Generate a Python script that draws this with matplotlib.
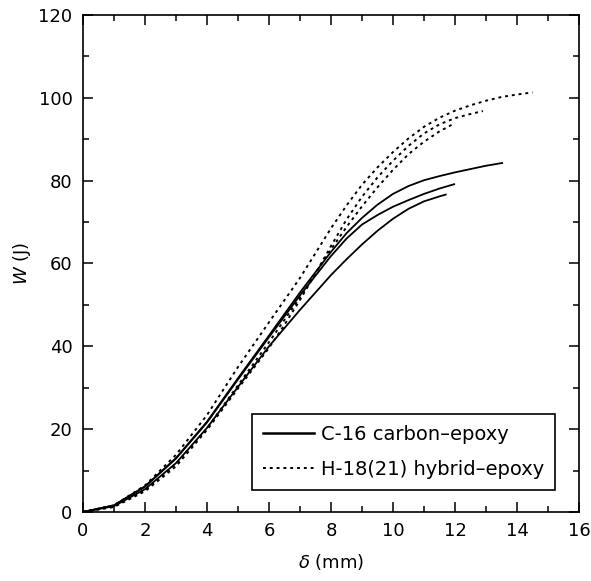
import matplotlib
matplotlib.use("Agg")
import matplotlib.pyplot as plt
from matplotlib.lines import Line2D
import numpy as np

# --- data ---
c1_x = [0, 1, 2, 3, 4, 5, 6, 7, 8, 8.5, 9, 9.5, 10, 10.5, 11, 11.5, 12, 12.5, 13, 13.55]
c1_y = [0, 1.6, 6.2, 13.0, 21.8, 32.3, 42.6, 53.0, 62.8, 67.3, 71.0, 74.2, 76.8, 78.7, 80.1, 81.1, 82.0, 82.8, 83.6, 84.3]

c2_x = [0, 1, 2, 3, 4, 5, 6, 7, 8, 8.5, 9, 9.5, 10, 10.5, 11, 11.5, 12]
c2_y = [0, 1.6, 6.1, 12.9, 21.6, 32.0, 42.2, 52.3, 61.8, 66.0, 69.4, 71.7, 73.7, 75.3, 76.8, 78.1, 79.2]

c3_x = [0, 1, 2, 3, 4, 5, 6, 7, 8, 8.5, 9, 9.5, 10, 10.5, 11, 11.5, 11.73]
c3_y = [0, 1.4, 5.5, 11.8, 20.3, 30.2, 40.0, 48.8, 57.2, 61.0, 64.6, 67.9, 70.8, 73.2, 75.0, 76.2, 76.7]

h1_x = [0, 1, 2, 3, 4, 5, 6, 7, 7.5, 8, 8.5, 9, 9.5, 10, 10.5, 11, 11.5, 12, 12.5, 13, 13.5, 14, 14.5]
h1_y = [0, 1.6, 6.4, 13.8, 23.4, 35.0, 45.8, 56.5, 62.5, 68.5, 74.0, 79.0, 83.2, 86.9, 90.2, 93.0, 95.2, 96.9, 98.2, 99.3, 100.2, 100.8, 101.3]

h2_x = [0, 1, 2, 3, 4, 5, 6, 6.5, 7, 7.5, 8, 8.5, 9, 9.5, 10, 10.5, 11, 11.5, 12, 12.5, 12.9]
h2_y = [0, 1.2, 5.0, 11.0, 19.8, 29.8, 39.6, 45.2, 51.2, 57.6, 64.2, 70.6, 76.1, 80.8, 84.8, 88.4, 91.4, 93.6, 95.1, 96.1, 96.8]

h3_x = [0, 1, 2, 3, 4, 5, 6, 7, 7.5, 8, 8.5, 9, 9.5, 10, 10.5, 11, 11.5, 12]
h3_y = [0, 1.3, 5.3, 11.5, 20.2, 30.6, 41.0, 51.8, 57.6, 63.4, 68.8, 73.8, 78.4, 82.6, 86.4, 89.4, 91.9, 93.9]

carbon_label = "C-16 carbon\u2013epoxy"
hybrid_label = "H-18(21) hybrid\u2013epoxy"
x_ticks = [0, 2, 4, 6, 8, 10, 12, 14, 16]
y_ticks = [0, 20, 40, 60, 80, 100, 120]

plt.rcParams['font.family'] = ['DejaVu Sans']

fig = plt.figure(figsize=(5.91, 5.81), dpi=100)
ax = fig.add_axes([0.1404, 0.1188, 0.8393, 0.8554])

dot_style = (0, (1.5, 2.0))
solid_kw = dict(color='black', lw=1.3, solid_capstyle='butt')
dot_kw = dict(color='black', lw=1.4, linestyle=dot_style)

ax.plot(c1_x, c1_y, **solid_kw)
ax.plot(c2_x, c2_y, **solid_kw)
ax.plot(c3_x, c3_y, **solid_kw)
ax.plot(h1_x, h1_y, **dot_kw)
ax.plot(h2_x, h2_y, **dot_kw)
ax.plot(h3_x, h3_y, **dot_kw)

handles = [Line2D([], [], color='black', lw=1.8),
           Line2D([], [], color='black', lw=1.4, linestyle=dot_style)]
leg = ax.legend(handles, [carbon_label, hybrid_label], loc='lower left',
                bbox_to_anchor=(0.341, 0.0443), borderaxespad=0,
                fontsize=14, fancybox=False, framealpha=1, edgecolor='black',
                handlelength=2.6, handletextpad=0.36, labelspacing=0.85,
                borderpad=0.56)
leg.get_frame().set_linewidth(1.2)

ax.set_xlim(0, 16)
ax.set_ylim(0, 120)
ax.set_xticks(x_ticks)
ax.set_yticks(y_ticks)
ax.set_xticks(np.arange(1, 16, 2), minor=True)
ax.set_yticks(np.arange(10, 120, 20), minor=True)
ax.tick_params(which='both', direction='in', top=True, right=True, width=1.1, labelsize=13)
ax.tick_params(which='major', length=7)
ax.tick_params(which='minor', length=4)
ax.tick_params(axis='x', pad=7)
ax.tick_params(axis='y', pad=7.5)
for s in ax.spines.values():
    s.set_linewidth(1.2)

ax.set_xlabel(r"$\it{\delta}$ (mm)", fontsize=13, labelpad=9)
ax.set_ylabel(r"$\it{W}$ (J)", fontsize=13, labelpad=4)

fig.savefig("out.png", dpi=100)
